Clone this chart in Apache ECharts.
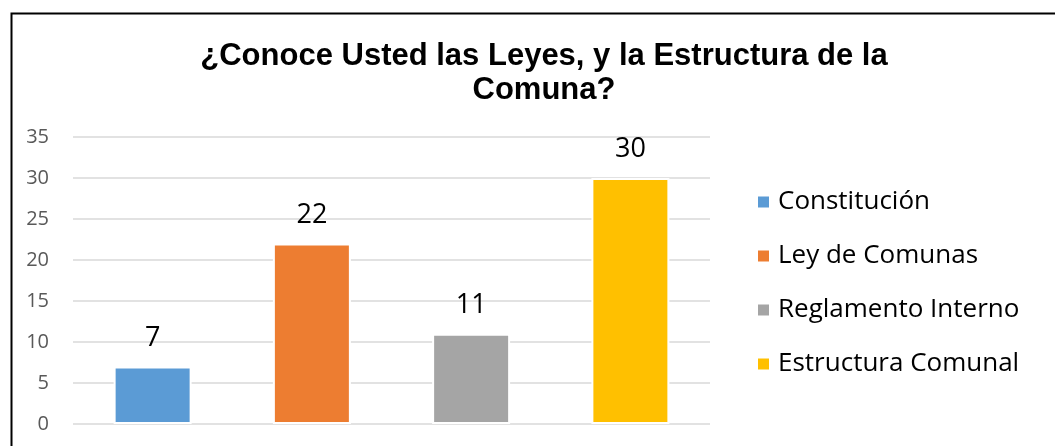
<!DOCTYPE html>
<html>
<head>
<meta charset="utf-8">
<script src="https://cdn.jsdelivr.net/npm/echarts@6/dist/echarts.min.js"></script>
<style>html,body{margin:0;padding:0;background:#fff;}#c{width:1055px;height:446px;}</style>
</head>
<body>
<div id="c"></div>
<script>
const titleText = '¿Conoce Usted las Leyes, y la Estructura de la\nComuna?';
const categories = ['Constitución', 'Ley de Comunas', 'Reglamento Interno', 'Estructura Comunal'];
const values = [7, 22, 11, 30];
const colors = ['#5B9BD5', '#ED7D31', '#A5A5A5', '#FFC000'];
const yTicks = [0, 5, 10, 15, 20, 25, 30, 35];

const chart = echarts.init(document.getElementById('c'));
const series = categories.map((name, i) => ({
  name: name,
  type: 'bar',
  barWidth: 78,
  barGap: '-100%',
  data: values.map((v, j) => (j === i ? v : null)),
  itemStyle: { color: colors[i], borderColor: '#fff', borderWidth: 2 },
  label: {
    show: true, position: 'top', distance: 15,
    fontFamily: 'Open Sans', fontSize: 27, color: '#000'
  }
}));

chart.setOption({
  animation: false,
  color: colors,
  title: {
    text: titleText,
    left: 539, top: 34, textAlign: 'center',
    textStyle: { fontFamily: 'Liberation Sans', fontWeight: 'bold', fontSize: 31, lineHeight: 34, color: '#000' }
  },
  graphic: [{
    type: 'rect', left: 9, top: 11,
    shape: { width: 1100, height: 500 },
    style: { fill: 'none', stroke: '#000', lineWidth: 2 }
  }],
  legend: {
    orient: 'vertical', left: 751, top: 184,
    itemWidth: 13, itemHeight: 13, itemGap: 28,
    icon: 'rect',
    data: categories,
    textStyle: { fontFamily: 'Open Sans', fontSize: 26, color: '#000', padding: [0, 0, 0, 3] }
  },
  grid: { left: 73, right: 345, top: 137, bottom: 22, containLabel: false },
  xAxis: {
    type: 'category', data: categories,
    axisLine: { show: false }, axisTick: { show: false }, axisLabel: { show: false }
  },
  yAxis: {
    type: 'value', min: yTicks[0], max: yTicks[yTicks.length - 1], interval: 5,
    axisLine: { show: false }, axisTick: { show: false },
    axisLabel: { fontFamily: 'Open Sans', fontSize: 20, color: '#595959', margin: 24 },
    splitLine: { lineStyle: { color: '#D9D9D9', width: 1.5 } }
  },
  series: series
});
</script>
</body>
</html>
